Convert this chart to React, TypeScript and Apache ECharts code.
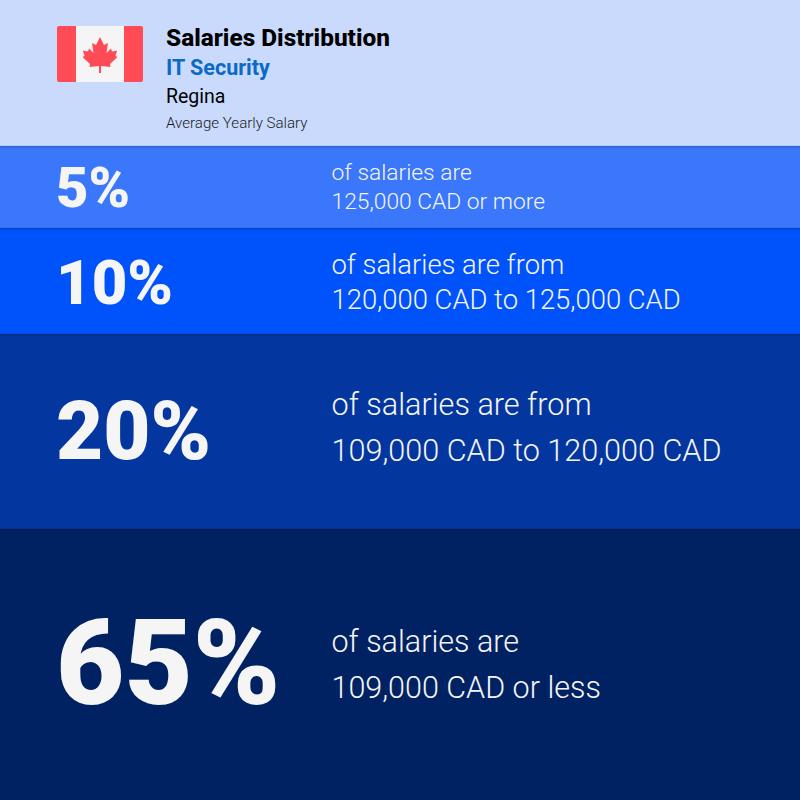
import React, { useEffect, useRef } from "react";
import * as echarts from "echarts";

const titleLines = ["Salaries Distribution", "IT Security", "Regina", "Average Yearly Salary"];
const shares = ["5%", "10%", "20%", "65%"];
const firstLines = ["of salaries are", "of salaries are from", "of salaries are from", "of salaries are"];
const secondLines = ["125,000 CAD or more", "120,000 CAD to 125,000 CAD", "109,000 CAD to 120,000 CAD", "109,000 CAD or less"];
const bandNames = ["Header", ...shares];
// Drawn heights of the bands (they are not proportional to the shares).
const bandHeights = [146, 82, 106, 195, 271];
const bandColors = ["#c9dafd", "#3a77fb", "#0053fb", "#0436a0", "#012262"];

const leaf: number[][] = [
  [100, 37], [104, 45], [108, 43], [106.5, 53], [111, 48.5], [112, 51.5], [117, 50.5], [115.5, 56], [117.5, 57],
  [110, 64], [110.5, 67], [101, 66], [101, 73], [99, 73], [99, 66], [89.5, 67], [90, 64], [82.5, 57],
  [84.5, 56], [83, 50.5], [88, 51.5], [89, 48.5], [93.5, 53], [92, 43], [96, 45],
];

const RL = "Roboto, sans-serif";
const txt = (x: number, y: number, text: string, fontSize: number, fontWeight: any, fill: string) => ({
  type: "text", x, y, silent: true, z: 10,
  style: { text, fontSize, fontWeight, fill, fontFamily: RL, verticalAlign: "middle", align: "left" },
});

export default function App() {
  const ref = useRef<HTMLDivElement>(null);
  useEffect(() => {
    document.body.style.margin = "0";
    const chart = echarts.init(ref.current!, null, { renderer: "svg" });
    const shareSize = [56, 61.5, 81.5, 118];
    const shareY = [187.5, 283, 431, 664];
    const lineSize = [22.8, 27.4, 30.6, 30.5];
    const line1Y = [172, 265, 404, 641];
    const line2Y = [201, 300, 450, 687];
    const edges = bandHeights.slice(0, -1).map((_, i) =>
      bandHeights.slice(0, i + 1).reduce((a, b) => a + b, 0));
    chart.setOption({
      animation: false,
      backgroundColor: "#012262",
      grid: { left: 0, right: 0, top: 0, bottom: 0 },
      xAxis: { type: "category", data: ["bands"], show: false },
      yAxis: { type: "value", min: 0, max: 800, inverse: true, show: false },
      series: bandNames.map((name, i) => ({
        type: "bar", name, stack: "bands", barWidth: "100%",
        data: [bandHeights[i]],
        itemStyle: { color: bandColors[i] },
        silent: true,
      })),
      graphic: [
        ...edges.map((y) => ({
          type: "rect", silent: true, z: 4,
          shape: { x: 0, y: y - 1, width: 800, height: 4 },
          style: {
            fill: new echarts.graphic.LinearGradient(0, 0, 0, 1, [
              { offset: 0, color: "rgba(0,0,30,0)" },
              { offset: 0.3, color: "rgba(0,0,30,0.18)" },
              { offset: 1, color: "rgba(0,0,30,0)" },
            ]),
          },
        })),
        { type: "rect", shape: { x: 57, y: 26, width: 86, height: 56, r: 2 }, style: { fill: "#f5f5f5" }, z: 5 },
        { type: "rect", shape: { x: 57, y: 26, width: 19, height: 56, r: [2, 0, 0, 2] }, style: { fill: "#ff4b55" }, z: 6 },
        { type: "rect", shape: { x: 124, y: 26, width: 19, height: 56, r: [0, 2, 2, 0] }, style: { fill: "#ff4b55" }, z: 6 },
        { type: "polygon", shape: { points: leaf }, style: { fill: "#ff4b55" }, z: 6 },
        txt(166, 37.5, titleLines[0], 24.4, 800, "#000000"),
        txt(166, 67, titleLines[1], 21.5, 700, "#0a6ac8"),
        txt(166, 96, titleLines[2], 19.5, 400, "#000000"),
        txt(166, 123, titleLines[3], 15.1, 300, "#1a1a1a"),
        ...shares.flatMap((s, i) => [
          txt(56, shareY[i], s, shareSize[i], 900, "#f5f5f5"),
          txt(331.5, line1Y[i], firstLines[i], lineSize[i], 300, "#f5f5f5"),
          txt(331.5, line2Y[i], secondLines[i], lineSize[i], 300, "#f5f5f5"),
        ]),
      ],
    });
    return () => chart.dispose();
  }, []);
  return <div ref={ref} style={{ width: 800, height: 800 }} />;
}
